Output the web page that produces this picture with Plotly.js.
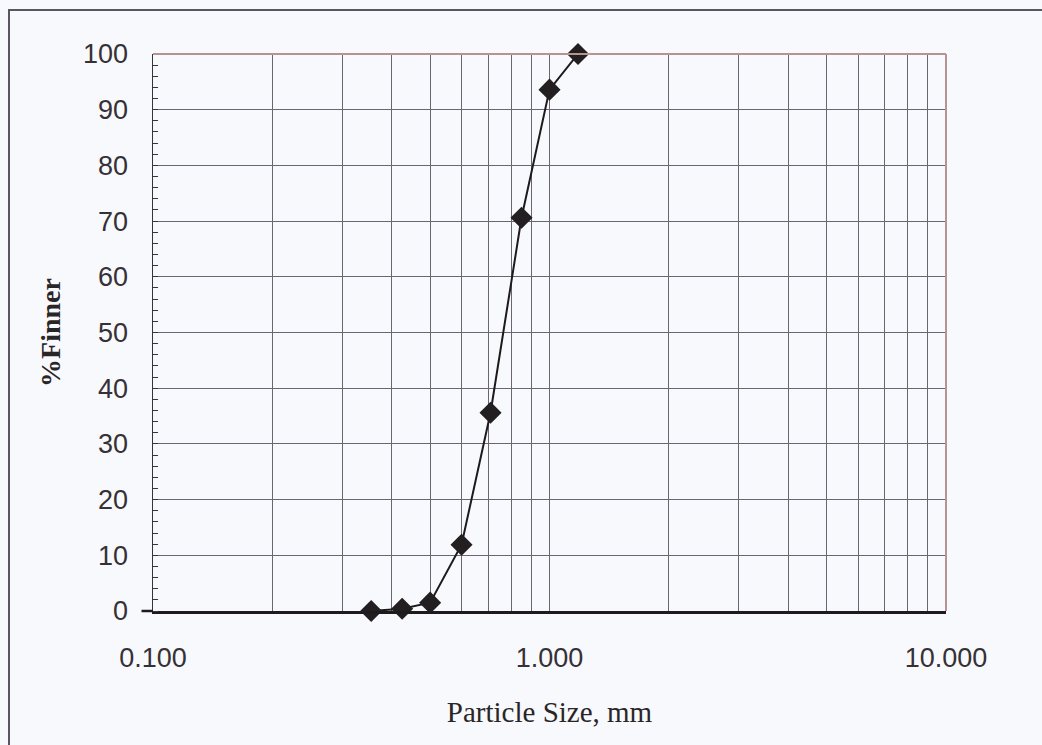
<!DOCTYPE html>
<html>
<head>
<meta charset="utf-8">
<script src="https://cdn.plot.ly/plotly-3.0.1.min.js"></script>
<style>
  html, body { margin: 0; padding: 0; background: #f8f9fd; }
  #wrap { position: relative; width: 1042px; height: 745px; overflow: hidden; }
  #chart { position: absolute; left: 0; top: 0; width: 1042px; height: 745px; }
  #frame { position: absolute; left: 8px; top: 9px; width: 1040px; height: 760px;
           border-left: 2px solid #5a5560; border-top: 2px solid #5a5560; pointer-events: none; }
</style>
</head>
<body>
<div id="wrap">
  <div id="chart"></div>
  <div id="frame"></div>
</div>
<script>
// Particle size (mm) and percent finer
const particleSize = [0.355, 0.425, 0.5, 0.6, 0.71, 0.85, 1.0, 1.18];
const percentFinner = [0, 0.4, 1.5, 11.9, 35.6, 70.6, 93.6, 100];

// Log-axis tick positions and labels (gridlines at every digit)
const xTickVals = [0.1, 0.2, 0.3, 0.4, 0.5, 0.6, 0.7, 0.8, 0.9,
                   1, 2, 3, 4, 5, 6, 7, 8, 9, 10];
const xTickText = ['0.100', '', '', '', '', '', '', '', '',
                   '1.000', '', '', '', '', '', '', '', '', '10.000'];
const yTickVals = [0, 10, 20, 30, 40, 50, 60, 70, 80, 90, 100];

const gridColor = '#6c6470';
const borderColor = '#b99393';

const trace = {
  x: particleSize,
  y: percentFinner,
  type: 'scatter',
  mode: 'lines+markers',
  line: { color: '#1c1a1c', width: 2 },
  marker: { symbol: 'diamond', size: 17, color: '#231f20', line: { width: 0 } },
  hoverinfo: 'x+y',
  showlegend: false,
  cliponaxis: false
};

const layout = {
  width: 1042,
  height: 745,
  margin: { l: 153, r: 96, t: 54, b: 133.5 },
  paper_bgcolor: '#f8f9fd',
  plot_bgcolor: '#f8f9fd',
  font: { family: 'Liberation Sans, Arial, sans-serif', color: '#333033' },
  xaxis: {
    type: 'log',
    range: [-1, 1],
    tickmode: 'array',
    tickvals: xTickVals,
    ticktext: xTickText,
    ticks: '',
    showgrid: true,
    gridcolor: gridColor,
    gridwidth: 1,
    showline: true,
    linecolor: '#1e1a1e',
    linewidth: 2.5,
    zeroline: false,
    tickfont: { size: 27, family: 'Liberation Sans, Arial, sans-serif', color: '#363134' },
    ticklabelstandoff: 21,
    title: {
      text: 'Particle Size, mm',
      font: { family: 'Liberation Serif, Times New Roman, serif', size: 29, color: '#2a2628' },
      standoff: 30
    }
  },
  yaxis: {
    range: [0, 100],
    tickmode: 'array',
    tickvals: yTickVals,
    ticks: '',
    showgrid: true,
    gridcolor: gridColor,
    gridwidth: 1,
    showline: true,
    linecolor: '#3a3438',
    linewidth: 1.5,
    zeroline: false,
    tickfont: { size: 27, family: 'Liberation Sans, Arial, sans-serif', color: '#363134' },
    ticklabelstandoff: 18,
    minor: { dtick: 2, tick0: 0, ticks: 'inside', ticklen: 5, tickwidth: 1, tickcolor: '#3a3438', showgrid: false },
    title: {
      text: '<b>%Finner</b>',
      font: { family: 'Liberation Serif, Times New Roman, serif', size: 28, color: '#2a2628' },
      standoff: 14
    }
  },
  shapes: [
    { type: 'line', xref: 'paper', yref: 'paper', x0: 0, x1: 1, y0: 1, y1: 1,
      line: { color: borderColor, width: 2 }, layer: 'above' },
    { type: 'line', xref: 'paper', yref: 'paper', x0: 1, x1: 1, y0: 0, y1: 1,
      line: { color: borderColor, width: 2 }, layer: 'above' },
    { type: 'line', xref: 'paper', yref: 'paper', x0: -0.0145, x1: 0, y0: 0, y1: 0,
      line: { color: '#1e1a1e', width: 2.5 }, layer: 'above' }
  ]
};

Plotly.newPlot('chart', [trace], layout, { displayModeBar: false, staticPlot: true });
</script>
</body>
</html>
